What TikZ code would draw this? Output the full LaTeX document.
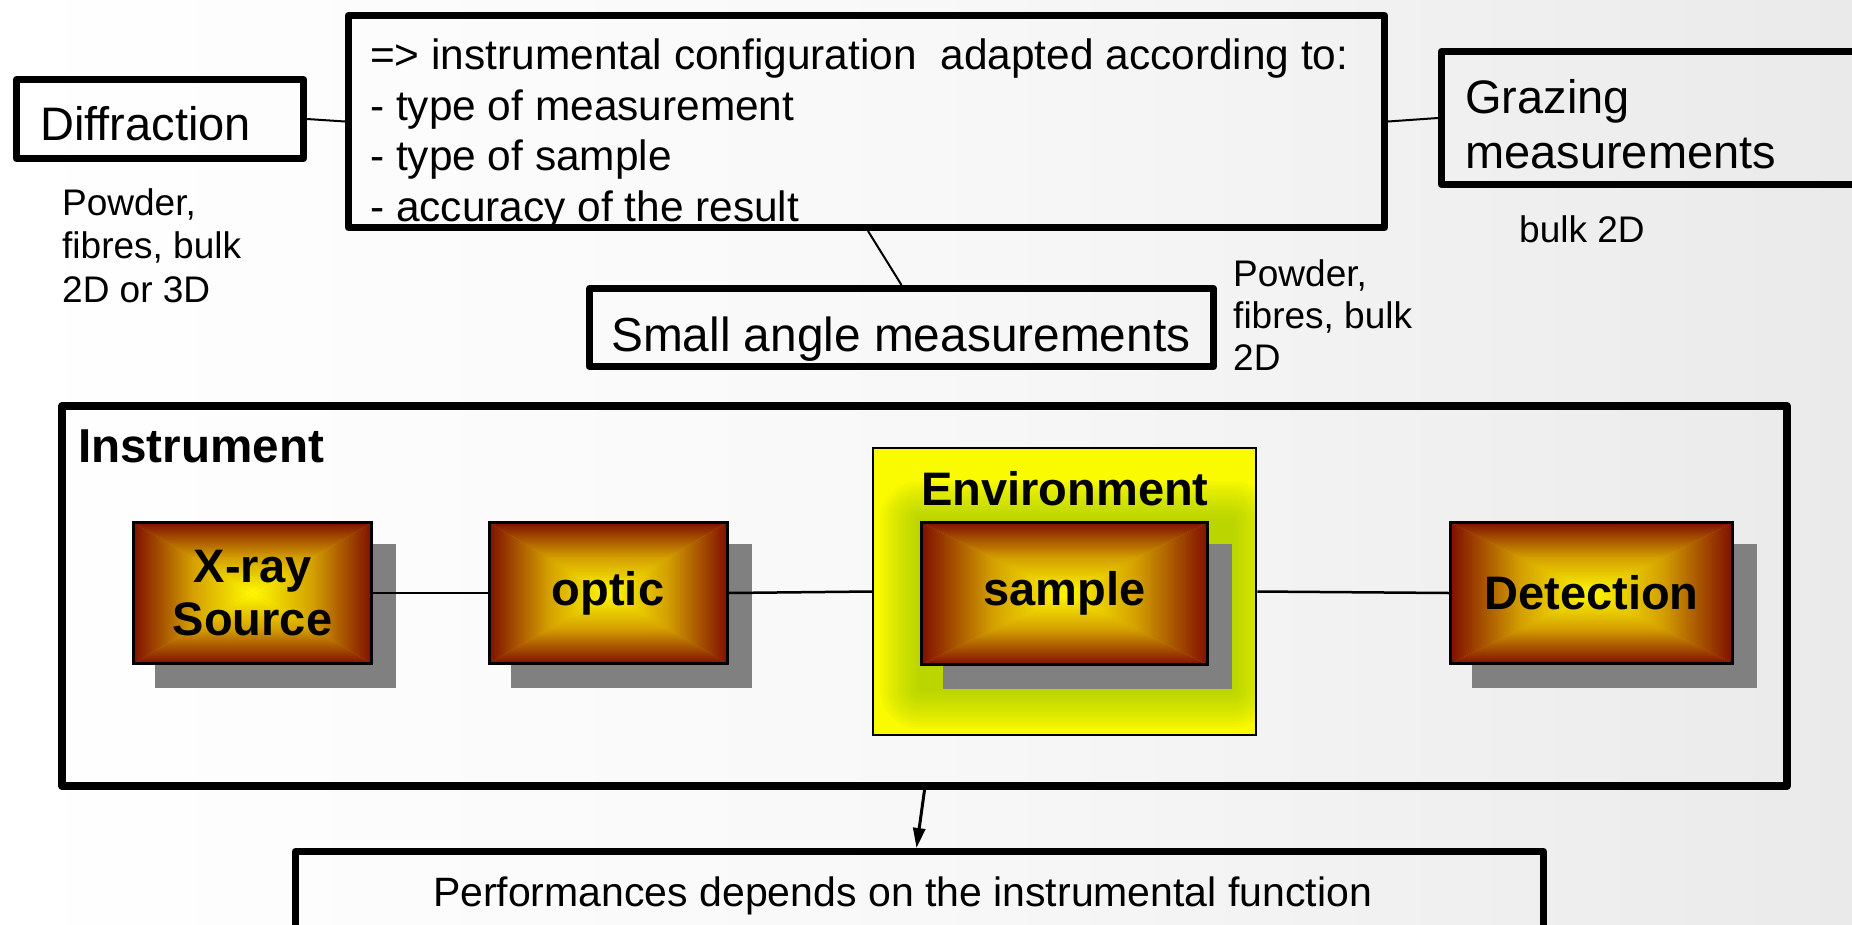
\documentclass[tikz,border=0pt]{standalone}
\usepackage{fontspec}
\setmainfont{Liberation Sans}
\usetikzlibrary{arrows.meta,calc}
\definecolor{edgered}{RGB}{128,16,0}
\definecolor{midgold}{RGB}{212,160,0}
\definecolor{cyellow}{RGB}{255,250,0}
\definecolor{shadowgray}{RGB}{128,128,128}
\definecolor{envyellow}{RGB}{250,250,0}
\definecolor{glowgreen}{RGB}{120,180,0}
\definecolor{bgright}{RGB}{234,234,234}
\definecolor{bgmid}{RGB}{248,248,248}

\newcommand\gbox[6]{%
  \pgfmathsetmacro\gxa{#2-#4/2}\pgfmathsetmacro\gxb{#2+#4/2}%
  \pgfmathsetmacro\gya{#3-#5/2}\pgfmathsetmacro\gyb{#3+#5/2}%
  \fill[shadowgray] (\gxa+21.5,\gya+21.5) rectangle (\gxb+24.5,\gyb+24.5);
  \fill[midgold] (\gxa,\gya) rectangle (\gxb,\gyb);
  \shade[top color=edgered,bottom color=cyellow,middle color=midgold] (\gxa,\gya) -- (\gxb,\gya) -- (#2,#3) -- cycle;
  \shade[bottom color=edgered,top color=cyellow,middle color=midgold] (\gxa,\gyb) -- (\gxb,\gyb) -- (#2,#3) -- cycle;
  \shade[left color=edgered,right color=cyellow,middle color=midgold] (\gxa,\gya) -- (\gxa,\gyb) -- (#2,#3) -- cycle;
  \shade[right color=edgered,left color=cyellow,middle color=midgold] (\gxb,\gya) -- (\gxb,\gyb) -- (#2,#3) -- cycle;
  \node[draw=black, line width=3pt, minimum width=#4, minimum height=#5, inner sep=0pt, gfont, align=center] (#1) at (#2,#3) {#6};
}

\begin{document}
\begin{tikzpicture}[x=1pt,y=-1pt,
  thickbox/.style={draw=black, line width=7pt, line join=round, inner sep=0pt},
  lbl/.style={inner sep=0pt, anchor=base west},
  f47/.style={font=\fontsize{47}{54}\selectfont},
  f48/.style={font=\fontsize{47.8}{54}\selectfont},
  f42/.style={font=\fontsize{42.4}{50}\selectfont},
  f41/.style={font=\fontsize{41}{48}\selectfont},
  f37/.style={font=\fontsize{37}{43.5}\selectfont},
  gfont/.style={font=\fontsize{47}{53}\selectfont\bfseries},
  thinconn/.style={draw=black, line width=2pt},
  conn/.style={draw=black, line width=2.5pt},
]
\useasboundingbox (0,0) rectangle (1852,924);
\clip (0,0) rectangle (1852,924);
\shade[left color=white, right color=bgright, middle color=bgmid] (0,0) rectangle (1852,924);

% ---------- top row ----------
\node[thickbox, minimum width=287, minimum height=79] (diff) at (160,119) {};
\node[lbl,f47] (tdiff) at (40,140) {Diffraction};
\node[lbl,f37] (pw1) at (62,215) {Powder,};
\node[lbl,f37] (pw2) at (62,258) {fibres, bulk};
\node[lbl,f37] (pw3) at (62,302) {2D or 3D};

\node[thickbox, minimum width=1036, minimum height=212] (cfg) at (866.5,121.5) {};
\node[lbl,f42] (c1) at (370,69.5) {=> instrumental configuration\ \ adapted according to:};
\node[lbl,f42] (c2) at (370,120) {- type of measurement};
\node[lbl,f42] (c3) at (370,170.5) {- type of sample};
\node[lbl,f42] (c4) at (370,221) {- accuracy of the result};

\node[thickbox, minimum width=438.5, minimum height=133] (graz) at (1660.75,118) {};
\node[lbl,f47] (g1) at (1465,113) {Grazing};
\node[lbl,f47] (g2) at (1465,168) {measurements};
\node[lbl,f37] (gb) at (1519,242) {bulk 2D};

\node[thickbox, minimum width=624, minimum height=78] (small) at (901.5,327.5) {};
\node[lbl,f48] (ts) at (611,351) {Small angle measurements};
\node[lbl,f37] (sp1) at (1233,286) {Powder,};
\node[lbl,f37] (sp2) at (1233,328) {fibres, bulk};
\node[lbl,f37] (sp3) at (1233,370) {2D};

\draw[thinconn] (diff.east) -- (cfg.west);
\draw[thinconn] (cfg.east) -- (graz.west);
\draw[thinconn] ([xshift=1.5pt]cfg.south) -- (small.north);

% ---------- instrument ----------
\node[draw=black, line width=8pt, line join=round, inner sep=0pt, minimum width=1725, minimum height=380] (inst) at (924.5,596) {};
\node[lbl, font=\fontsize{47.6}{53}\selectfont\bfseries] (tinst) at (78,462) {Instrument};

\node[draw=black, line width=2.5pt, fill=envyellow, inner sep=0pt, minimum width=383, minimum height=287] (env) at (1064.5,591.5) {};
\begin{scope}
\clip (874,449) rectangle (1255,734);
\foreach \e in {40,37.5,...,2.5}
  \fill[glowgreen, opacity=0.035, rounded corners=\e pt] (920-\e,521-\e) rectangle (1232+\e,689+\e);
\end{scope}
\node[inner sep=0pt, anchor=base, gfont] (tenv) at (1065,505) {Environment};

\gbox{src}{252.5}{593}{238}{141}{X-ray\\Source}
\gbox{opt}{608}{593}{238}{141}{optic}
\gbox{smp}{1064.5}{593.5}{286}{142}{sample}
\gbox{det}{1591.5}{593}{282}{141}{Detection}

\draw[conn] (src.east) -- (opt.west);
\draw[conn] (opt.east) -- (env.west);
\draw[conn] (env.east) -- (det.west);

% ---------- performance ----------
\node[thickbox, minimum width=1248, minimum height=108.5] (perf) at (919.5,905.75) {};
\node[inner sep=0pt, anchor=base, f41] (tperf) at (902.5,906) {Performances depends on the instrumental function};

\draw[line width=3pt, -{Triangle[length=20pt,width=12pt]}] (inst.south) -- ([xshift=-3pt]perf.north);
\end{tikzpicture}
\end{document}
